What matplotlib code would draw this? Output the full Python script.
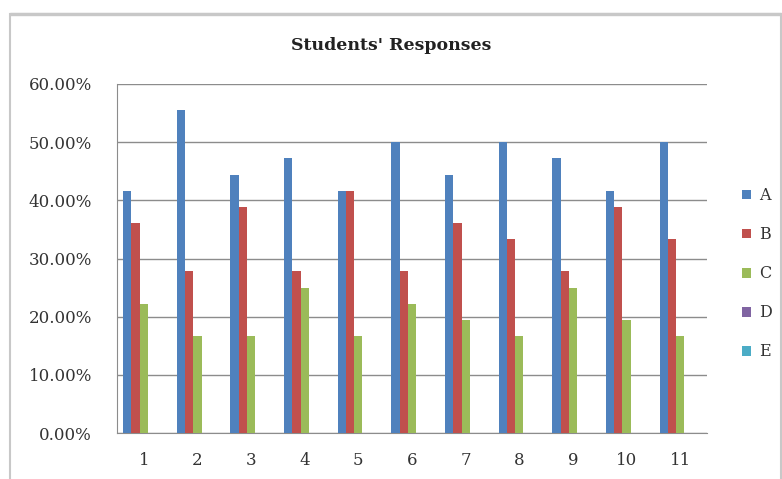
import numpy as np
import matplotlib.pyplot as plt
from matplotlib.patches import Rectangle
from matplotlib.ticker import FuncFormatter

# share of students choosing each option, per question
questions = ['1', '2', '3', '4', '5', '6', '7', '8', '9', '10', '11']
series = ['A', 'B', 'C', 'D', 'E']
resp_a = [41.67, 55.56, 44.44, 47.22, 41.67, 50.00, 44.44, 50.00, 47.22, 41.67, 50.00]
resp_b = [36.11, 27.78, 38.89, 27.78, 41.67, 27.78, 36.11, 33.33, 27.78, 38.89, 33.33]
resp_c = [22.22, 16.67, 16.67, 25.00, 16.67, 22.22, 19.44, 16.67, 25.00, 19.44, 16.67]
resp_d = [0, 0, 0, 0, 0, 0, 0, 0, 0, 0, 0]
resp_e = [0, 0, 0, 0, 0, 0, 0, 0, 0, 0, 0]
colors = ['#4F81BD', '#C0504D', '#9BBB59', '#8064A2', '#4BACC6']

plt.rcParams['font.family'] = ['DejaVu Serif']

fig = plt.figure(figsize=(7.82, 4.79), dpi=100)
ax = fig.add_axes([117/782, 1 - 433/479, 590/782, 349/479])

x = np.arange(len(questions))
w = 1 / 6.5
values = [resp_a, resp_b, resp_c, resp_d, resp_e]
for i, (name, vals, col) in enumerate(zip(series, values, colors)):
    ax.bar(x + (i - 2) * w, vals, w, color=col, label=name, zorder=3)

ax.set_xlim(-0.5, len(questions) - 0.5)
ax.set_ylim(0, 60)
ax.set_yticks(np.arange(0, 61, 10))
ax.yaxis.set_major_formatter(FuncFormatter(lambda v, p: f'{v:.2f}%'))
ax.set_xticks(x)
ax.set_xticklabels(questions)
ax.tick_params(axis='both', length=0, labelsize=12, colors='#333333')
ax.tick_params(axis='y', pad=18)
ax.tick_params(axis='x', pad=14)
ax.grid(axis='y', color='#8c8c8c', linewidth=1, zorder=0)
for s in ['top', 'right']:
    ax.spines[s].set_visible(False)
ax.spines['left'].set_color('#8c8c8c')
ax.spines['bottom'].set_color('#8c8c8c')

fig.text(0.5, 1 - 46/479, "Students' Responses", ha='center', va='center',
         fontsize=12.5, fontweight='bold', color='#222222')

ax.legend(loc='center left', bbox_to_anchor=(1.035, 0.456), frameon=False,
          handlelength=0.55, handleheight=0.55, handletextpad=0.5,
          labelspacing=1.38, fontsize=11.5, labelcolor='#333333')

# chart frame
fig.patches.append(Rectangle((10/782, -0.05), 771/782, 1.05 - 14/479,
                             transform=fig.transFigure, fill=False,
                             edgecolor='#c8c8c8', linewidth=1.5))
fig.patches.append(Rectangle((10/782, 1 - 15/479), 771/782, 2/479,
                             transform=fig.transFigure, color='#c8c8c8'))

fig.savefig('out.png', dpi=100, facecolor='white')
